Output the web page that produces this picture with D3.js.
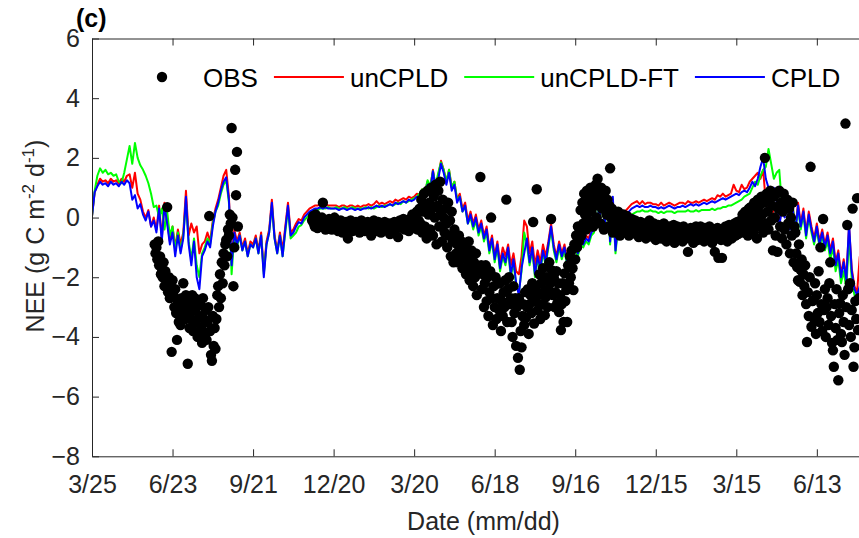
<!DOCTYPE html>
<html>
<head>
<meta charset="utf-8">
<script src="https://cdn.jsdelivr.net/npm/d3@7"></script>
<style>
  body { margin: 0; background: #fff; }
  svg text { font-family: "Liberation Sans", Arial, Helvetica, sans-serif; }
</style>
</head>
<body>
<svg id="chart" width="859" height="538"></svg>
<script>
// ---- data -------------------------------------------------------------
const startDate = "2013-03-25";     // first day of the record
const axisSpanDays = 875;           // length of the x axis in days
const modelStep = 3;                // days between consecutive model values

// Simulated daily NEE (g C m-2 d-1), one value every 3 days from startDate
const unCPLD = [
  0.05, 0.85, 1.1, 1.3, 1.2, 1.25, 1.15, 1.3, 1.2, 1.25,
  1.15, 1.3, 1.2, 1.4, 1.45, 1.0, 1.5, 0.8, 0.6, 0.2,
  0.0, 0.25, -0.3, 0.0, -0.4, 0.4, -0.7, 0.5, -0.1, -0.8,
  -0.3, -1.0, -0.4, -0.9, -0.5, 0.9, -0.6, -0.2, -0.5, -0.3,
  -1.2, -0.9, -0.8, -0.5, -0.8, -0.1, 0.3, 0.6, 1.0, 1.4,
  1.6, 0.7, -1.4, -0.4, -0.8, -0.5, -1.0, -0.7, -1.2, -0.8,
  -0.9, -0.6, -1.1, -0.5, -1.8, -0.8, -0.4, 0.6, -0.6, -1.1,
  -0.5, -1.1, -0.3, 0.5, -0.5, -0.4, -0.2, -0.05, -0.1, 0.1,
  0.2, 0.3, 0.35, 0.4, 0.4, 0.45, 0.4, 0.45, 0.4, 0.4,
  0.4, 0.4, 0.35, 0.4, 0.4, 0.35, 0.4, 0.4, 0.35, 0.4,
  0.35, 0.4, 0.4, 0.45, 0.4, 0.45, 0.55, 0.45, 0.5, 0.45,
  0.5, 0.55, 0.5, 0.6, 0.55, 0.6, 0.65, 0.6, 0.7, 0.65,
  0.7, 0.8, 0.75, 0.95, 0.85, 1.2, 1.0, 1.6, 1.0, 1.4,
  1.9, 1.6, 1.2, 1.6, 1.0, 1.2, 0.6, 0.8, 0.3, 0.5,
  -0.1, 0.2, -0.2, 0.1, -0.4, -0.1, -0.6, -0.3, -1.0, -0.6,
  -1.3, -0.8, -1.5, -1.0, -1.3, -0.9, -1.6, -1.2, -1.8, -1.9,
  -1.3, -0.1, -0.3, -1.2, -0.8, -1.6, -1.1, -1.5, -0.9, -1.3,
  -0.8, -0.2, -0.9, -1.3, -0.8, -1.2, -0.9, -1.4, -1.0, -1.1,
  -0.9, -1.1, -0.7, -0.8, -0.6, -0.7, -0.4, -0.3, 1.1, -0.1,
  0.9, -0.2, 0.8, -0.6, 0.6, -0.9, -0.1, -0.3, 0.1, 0.25,
  0.35, 0.45, 0.5, 0.55, 0.45, 0.55, 0.45, 0.5, 0.5, 0.45,
  0.45, 0.4, 0.5, 0.4, 0.45, 0.5, 0.45, 0.4, 0.45, 0.5,
  0.5, 0.45, 0.55, 0.5, 0.5, 0.55, 0.5, 0.55, 0.6, 0.55,
  0.6, 0.65, 0.6, 0.75, 0.7, 0.8, 0.7, 0.75, 0.8, 1.1,
  0.9, 0.85, 1.1, 0.95, 1.0, 1.2, 1.3, 1.4, 1.5, 1.3,
  1.6, 0.5, 0.2, 0.0, 0.3, 0.4, -0.2, 0.3, 0.1, 0.5,
  -0.3, 0.4, -0.4, 0.5, -0.2, 0.3, -0.5, 0.2, -0.3, -0.7,
  -0.2, -0.8, -0.4, -0.9, -0.5, -1.1, -0.7, -1.5, -1.1, -1.9,
  -1.4, -2.0, -0.3, -1.7, -2.3, -2.5, -1.3
];

const unCPLDFT = [
  0.05, 0.9, 1.4, 1.65, 1.5, 1.6, 1.45, 1.5, 1.4, 1.45,
  1.2, 1.15, 1.5, 1.95, 2.4, 1.8, 2.5, 2.0, 1.75, 1.6,
  1.4, 1.15, 0.8, 0.35, 0.4, 0.0, 0.3, -0.4, 0.2, -0.6,
  -0.3, -1.1, -0.5, -1.1, -0.6, 0.5, -0.8, -1.4, -0.7, -1.6,
  -2.0, -1.2, -1.0, -0.7, -0.9, -0.2, 0.2, 0.4, 0.8, 1.1,
  1.25, 0.5, -1.9, -0.6, -1.0, -0.6, -1.1, -0.8, -1.3, -0.9,
  -1.0, -0.7, -1.2, -0.6, -1.9, -0.9, -0.5, 0.4, -0.7, -1.2,
  -0.6, -1.3, -0.5, 0.3, -0.7, -0.6, -0.5, -0.3, -0.25, -0.1,
  0.0, 0.1, 0.2, 0.25, 0.25, 0.3, 0.3, 0.3, 0.35, 0.3,
  0.3, 0.35, 0.3, 0.3, 0.35, 0.3, 0.3, 0.35, 0.3, 0.3,
  0.3, 0.3, 0.35, 0.3, 0.35, 0.3, 0.35, 0.4, 0.35, 0.4,
  0.4, 0.45, 0.4, 0.45, 0.5, 0.45, 0.55, 0.5, 0.55, 0.6,
  0.65, 0.7, 0.8, 0.95, 0.85, 1.25, 1.05, 1.55, 1.1, 1.5,
  1.85, 1.6, 1.2, 1.6, 1.0, 1.2, 0.6, 0.7, 0.2, 0.35,
  -0.2, 0.0, -0.4, -0.1, -0.6, -0.3, -0.8, -0.5, -1.2, -0.8,
  -1.5, -1.0, -1.8, -1.3, -1.6, -1.1, -2.0, -1.5, -2.3, -2.5,
  -1.8, -0.5, -0.9, -1.6, -1.1, -2.0, -1.4, -1.8, -1.2, -1.6,
  -1.0, -0.4, -1.1, -1.5, -1.0, -1.4, -1.1, -1.6, -1.2, -1.3,
  -1.1, -1.3, -0.9, -1.0, -0.8, -0.9, -0.6, -0.5, 1.0, -0.3,
  0.8, -0.4, 0.7, -0.9, 0.5, -1.2, -0.3, -0.6, -0.2, -0.05,
  0.0, 0.1, 0.15, 0.2, 0.2, 0.25, 0.2, 0.2, 0.25, 0.2,
  0.2, 0.15, 0.2, 0.15, 0.2, 0.2, 0.2, 0.15, 0.2, 0.2,
  0.2, 0.2, 0.25, 0.2, 0.2, 0.25, 0.2, 0.25, 0.25, 0.25,
  0.25, 0.3, 0.25, 0.3, 0.3, 0.35, 0.35, 0.4, 0.4, 0.45,
  0.5, 0.55, 0.6, 0.7, 0.75, 0.8, 1.0, 1.2, 1.1, 1.4,
  1.6, 1.7, 2.3, 1.8, 1.3, 1.5, 1.6, 0.4, 0.3, 0.7,
  -0.3, 0.4, -0.4, 0.3, -0.4, 0.1, -0.7, 0.0, -0.5, -0.9,
  -0.4, -1.0, -0.6, -1.1, -0.8, -1.4, -1.0, -1.8, -1.4, -2.2,
  -1.8, -2.4, -0.6, -2.1, -2.6, -2.7, -2.4
];

const CPLD = [
  0.05, 0.85, 1.05, 1.2, 1.1, 1.15, 1.05, 1.2, 1.1, 1.15,
  1.05, 1.2, 1.1, 1.25, 1.15, 0.6, 0.75, 0.3, 0.45, 0.1,
  -0.1, 0.2, -0.3, -0.1, -0.5, 0.3, -0.8, 0.4, -0.2, -0.9,
  -0.5, -1.3, -0.6, -1.2, -0.7, 0.7, -0.9, -1.6, -0.8, -2.0,
  -2.4, -1.3, -1.1, -0.8, -1.0, -0.3, 0.2, 0.5, 0.9, 1.2,
  1.35, 0.6, -1.6, -0.5, -0.9, -0.6, -1.1, -0.8, -1.3, -0.9,
  -1.0, -0.7, -1.2, -0.6, -2.0, -0.9, -0.5, 0.5, -0.7, -1.2,
  -0.6, -1.3, -0.4, 0.4, -0.6, -0.5, -0.3, -0.15, -0.2, 0.0,
  0.1, 0.2, 0.25, 0.3, 0.3, 0.35, 0.3, 0.35, 0.3, 0.3,
  0.3, 0.3, 0.25, 0.3, 0.3, 0.25, 0.3, 0.3, 0.25, 0.3,
  0.25, 0.3, 0.3, 0.35, 0.3, 0.35, 0.4, 0.35, 0.4, 0.35,
  0.4, 0.45, 0.4, 0.5, 0.45, 0.5, 0.55, 0.5, 0.6, 0.55,
  0.6, 0.7, 0.65, 0.85, 0.75, 1.1, 0.9, 1.55, 0.95, 1.3,
  1.8, 1.5, 1.1, 1.5, 0.9, 1.1, 0.5, 0.7, 0.2, 0.4,
  -0.2, 0.1, -0.3, 0.0, -0.5, -0.2, -0.7, -0.4, -1.1, -0.7,
  -1.4, -0.9, -1.7, -1.2, -1.5, -1.0, -1.9, -1.4, -2.2, -2.6,
  -1.7, -1.2, -0.7, -1.5, -1.0, -1.9, -1.3, -1.7, -1.1, -1.5,
  -0.9, -0.3, -1.0, -1.4, -0.9, -1.3, -1.0, -1.5, -1.1, -1.2,
  -1.0, -1.2, -0.8, -0.9, -0.7, -0.8, -0.5, -0.4, 1.2, -0.2,
  1.0, -0.3, 0.9, -0.8, 0.7, -1.1, -0.2, -0.5, -0.1, 0.1,
  0.2, 0.3, 0.35, 0.4, 0.35, 0.4, 0.35, 0.35, 0.4, 0.35,
  0.35, 0.3, 0.35, 0.3, 0.35, 0.4, 0.35, 0.3, 0.35, 0.35,
  0.4, 0.35, 0.4, 0.45, 0.4, 0.45, 0.4, 0.45, 0.5, 0.45,
  0.5, 0.55, 0.5, 0.55, 0.6, 0.65, 0.6, 0.65, 0.7, 0.75,
  0.8, 0.75, 0.85, 0.9, 0.85, 1.0, 1.2, 1.05, 1.3, 1.7,
  2.0, 1.3, 1.0, 0.95, 1.0, 0.6, -0.3, 0.3, 0.0, 0.6,
  -0.4, 0.3, -0.5, 0.4, -0.3, 0.2, -0.6, 0.1, -0.4, -0.8,
  -0.3, -0.9, -0.5, -1.0, -0.6, -1.2, -0.8, -1.6, -1.2, -2.0,
  -1.5, -2.1, -0.2, -1.8, -2.4, -2.6, -2.3
];

// Observed daily NEE, first growing season (starts at day 70 of the record)
const obsSeasonOneStartDay = 70;
const obsSeasonOne = [
  -0.9, -1.2, -1.0, -1.4, -0.8, -1.6, -1.3, -1.9, -1.7, -2.0,
  -1.5, -2.3, -1.8, -2.1, 0.35, -2.5, -2.0, -2.7, -2.3, -4.5,
  -2.1, -2.6, -3.0, -2.4, -3.2, -4.1, -2.8, -3.5, -3.0, -3.6,
  -2.7, -3.3, -2.2, -2.9, -3.4, -2.6, -3.2, -4.9, -3.0, -3.7,
  -2.8, -3.4, -2.6, -3.8, -3.1, -2.7, -3.5, -3.0, -4.0, -2.9,
  -3.3, -2.9, -3.7, -4.2, -2.7, -3.4, -3.9, -3.1, -4.1, -3.5,
  -3.0, 0.05, -3.8, -4.6, -4.8, -3.3, -4.3, -3.7, -4.4, -3.4,
  -2.6, -2.3, -3.0, -1.9, -2.7, -1.5, -2.2, -1.2, -1.6, -0.9,
  -0.75, -1.3, -0.4, -0.6, 0.1, -0.2, 3.0, 0.0, -2.3, -1.0,
  1.6, 0.75, 2.2, -0.3
];

// Observed daily NEE from the first winter to the end of the record (starts at day 246)
const obsMainStartDay = 246;
const obsMain = [
  -0.1, 0.05, -0.2, -0.3, 0.1, -0.15, -0.35, -0.1, -0.25, -0.05,
  -0.2, 0.0, 0.5, -0.3, -0.1, -0.4, -0.2, -0.15, -0.3, -0.05,
  -0.25, -0.1, -0.4, -0.2, -0.3, 0.0, -0.35, -0.15, -0.25, -0.45,
  -0.2, -0.3, -0.1, -0.35, -0.5, -0.2, -0.25, -0.4, -0.15, -0.3,
  -0.7, -0.2, -0.35, -0.1, -0.3, -0.45, -0.2, -0.25, -0.35, -0.15,
  -0.3, -0.4, -0.2, -0.5, -0.25, -0.1, -0.35, -0.3, -0.2, -0.45,
  -0.25, -0.3, -0.15, -0.4, -0.2, -0.35, -0.6, -0.25, -0.3, -0.1,
  -0.35, -0.2, -0.3, -0.45, -0.15, -0.3, -0.25, -0.5, -0.2, -0.35,
  -0.3, -0.15, -0.4, -0.25, -0.35, -0.2, -0.3, -0.55, -0.2, -0.3,
  -0.25, -0.4, -0.15, -0.3, -0.2, -0.35, -0.65, -0.25, -0.1, -0.3,
  -0.2, -0.35, -0.05, -0.25, -0.4, -0.15, -0.3, -0.1, -0.45, -0.2,
  -0.05, -0.3, 0.1, -0.2, -0.35, 0.0, -0.15, 0.2, -0.4, -0.1,
  0.3, -0.2, 0.6, -0.5, 0.2, 0.8, -0.3, 0.4, -0.7, 0.9,
  0.1, 0.5, -0.4, 1.0, 0.3, -0.6, 0.7, 0.0, 1.1, -0.9,
  0.4, 0.9, -0.3, 1.2, 0.2, -0.8, 0.6, 0.0, -0.5, 0.3,
  -0.2, -1.0, 0.5, -0.6, -0.1, -1.3, 0.2, -0.8, -1.5, -0.4,
  -0.7, -1.2, -0.9, -1.5, -0.6, -1.1, -1.4, -0.8, -1.7, -1.0,
  -1.3, -0.9, -1.9, -1.2, -1.6, -0.8, -2.1, -1.4, -1.1, -1.8,
  -2.3, -1.5, -2.0, -1.2, -2.6, -1.7, -1.85, -1.7, 1.36, -1.6,
  -2.4, -1.9, -3.0, -2.2, -1.6, -2.8, -2.0, -3.3, -2.5, -1.8,
  0.0, -2.7, -3.6, -2.3, -3.0, -2.0, -3.4, -2.7, -2.2, -3.1,
  -2.2, -3.8, -2.8, -3.3, -2.5, -3.0, -2.1, 0.6, -3.5, -2.4,
  -2.0, -2.9, -2.7, -3.5, -4.0, -2.3, -3.2, -2.7, -4.3, -3.0,
  -4.7, -2.7, -5.1, -3.8, -4.35, -3.3, -2.9, -3.6, -2.5, -3.35,
  -3.0, -2.4, -3.9, -2.9, -2.6, -3.2, -2.2, -0.15, -3.55, -2.8,
  -2.4, 0.95, -3.1, -2.6, -1.9, -3.4, -2.2, -2.9, -1.7, -2.5,
  -3.27, -2.67, -2.0, -3.0, -2.4, -1.5, -2.2, -0.05, -1.77, -2.6,
  -2.0, -3.0, -2.5, -1.8, -2.87, -2.2, -3.17, -2.6, -3.77, -2.9,
  -2.2, -3.5, -1.87, -2.8, -2.43, -3.5, -1.6, -2.2, -1.3, -2.0,
  -1.1, -1.7, -2.43, -0.9, -1.4, -0.6, -1.0, -0.3, -0.8, -0.5,
  0.25, -0.6, 0.5, -0.2, 0.8, 0.1, -0.4, 0.9, 0.3, -0.1,
  0.6, 1.0, 0.2, 0.7, -0.3, 0.9, 0.4, 1.1, 0.0, 1.3,
  0.5, 0.8, -0.2, 1.0, 0.3, 0.7, -0.4, 0.5, 0.9, 0.1,
  0.6, -0.3, 0.4, 1.65, 0.0, 0.3, -0.5, 0.2, -0.2, 0.1,
  -0.1, -0.4, 0.2, -0.3, -0.6, 0.0, -0.2, -0.5, 0.1, -0.35,
  -0.2, -0.45, 0.05, -0.3, -0.6, -0.15, -0.35, -0.05, -0.5, -0.25,
  -0.4, -0.1, -0.55, -0.3, -0.2, -0.65, -0.35, -0.15, -0.45, -0.3,
  -0.6, -0.2, -0.4, -0.7, -0.25, -0.5, -0.35, -0.1, -0.55, -0.4,
  -0.3, -0.65, -0.2, -0.45, -0.75, -0.35, -0.5, -0.25, -0.6, -0.4,
  -0.7, -0.3, -0.5, -0.2, -0.6, -0.45, -0.8, -0.35, -0.55, -0.3,
  -0.5, -0.75, -0.4, -0.6, -0.25, -0.85, -0.45, -0.55, -0.3, -0.75,
  -0.5, -0.35, -0.65, -0.45, -0.8, -0.3, -0.55, -0.7, -0.4, -0.6,
  -1.15, -0.45, -0.7, -0.35, -0.6, -0.5, -0.85, -0.4, -0.65, -0.3,
  -0.55, -0.75, -0.4, -0.6, -0.3, -0.7, -0.5, -0.45, -0.8, -0.35,
  -0.6, -0.4, -0.75, -0.5, -0.3, -0.65, -0.45, -0.85, -0.55, -0.4,
  -1.15, -0.5, -0.7, -0.35, -1.35, -0.6, -0.45, -0.75, -1.35, -0.5,
  -0.4, -0.65, -0.3, -0.55, -0.8, -0.45, -0.25, -0.6, -0.4, -0.7,
  -0.35, -0.5, -0.2, -0.6, -0.4, -0.15, -0.55, -0.3, -0.45, -0.1,
  -0.3, 0.1, -0.5, -0.2, 0.2, -0.4, 0.0, -0.6, 0.3, -0.15,
  0.35, -0.3, 0.1, -0.5, 0.5, -0.1, 0.3, -0.7, 0.6, 0.0,
  0.4, -0.3, 0.7, 0.1, -0.5, 0.5, 2.0, -0.2, 0.8, 0.2,
  -0.4, 0.6, 0.9, -0.1, 0.4, -1.1, 0.7, 0.0, -0.6, 0.8,
  -1.15, 0.3, 0.9, -0.3, 0.5, -0.7, 0.2, 0.8, -0.4, 0.4,
  -0.9, 0.6, -0.2, 0.3, -1.2, 0.0, -0.6, 0.5, -1.5, -0.3,
  -0.5, -1.2, -1.66, -2.1, -0.9, -2.15, -1.76, -1.4, -2.6, -1.9,
  -2.3, -1.6, -2.9, -4.17, -2.5, -3.3, -2.0, 1.7, -3.66, -2.8,
  -2.77, -3.4, -2.2, -3.9, -2.6, -3.2, -1.8, -3.5, -1.0, -2.9,
  -3.8, -0.05, -3.1, -2.4, -4.0, -3.0, -2.7, -3.6, -2.2, -1.5,
  -3.3, -4.2, -4.45, -5.0, -2.9, -3.7, -2.4, -4.1, -5.45, -3.2,
  -2.87, -3.9, -4.17, -2.6, -3.5, -4.6, 3.15, -3.0, -0.25, -2.4,
  -3.6, -2.2, -4.0, -3.1, 0.3, -5.0, -4.35, -2.8, -3.4, 0.65,
  -3.77, -2.7
];

const yTicks = [-8, -6, -4, -2, 0, 2, 4, 6];
const xTickDates = ["2013-03-25", "2013-06-23", "2013-09-21", "2013-12-20", "2014-03-20",
                    "2014-06-18", "2014-09-16", "2014-12-15", "2015-03-15", "2015-06-13"];
const seriesNames = ["OBS", "unCPLD", "unCPLD-FT", "CPLD"];
const seriesColors = ["#000000", "#ff0000", "#00ff00", "#0000ff"];

// ---- layout -----------------------------------------------------------
const svg = d3.select("#chart");
const plot = { left: 92, right: 875, top: 38.5, bottom: 456.3 };
const axisColor = "#262626";
const fontSize = 25;
const legendFontSize = 26;

const parseDay = d3.utcParse("%Y-%m-%d");
const t0 = parseDay(startDate);
const dayToDate = d => d3.utcDay.offset(t0, d);

const x = d3.scaleUtc().domain([t0, dayToDate(axisSpanDays)]).range([plot.left, plot.right]);
const y = d3.scaleLinear().domain([-8, 6]).range([plot.bottom, plot.top]);

svg.append("rect").attr("width", 859).attr("height", 538).attr("fill", "#fff");

svg.append("defs").append("clipPath").attr("id", "plotClip")
  .append("rect")
  .attr("x", plot.left).attr("y", plot.top)
  .attr("width", plot.right - plot.left).attr("height", plot.bottom - plot.top);

// ---- data layers ------------------------------------------------------
const layer = svg.append("g").attr("clip-path", "url(#plotClip)");

const modelLine = d3.line()
  .x((v, i) => x(dayToDate(i * modelStep)))
  .y(v => y(v));

[[unCPLD, seriesColors[1]], [unCPLDFT, seriesColors[2]], [CPLD, seriesColors[3]]].forEach(([vals, col]) => {
  layer.append("path")
    .datum(vals)
    .attr("d", modelLine)
    .attr("fill", "none")
    .attr("stroke", col)
    .attr("stroke-width", 2)
    .attr("stroke-linejoin", "round");
});

const obsPoints = [];
obsSeasonOne.forEach((v, i) => { if (v !== null) obsPoints.push({ day: obsSeasonOneStartDay + i, v }); });
obsMain.forEach((v, i) => { if (v !== null) obsPoints.push({ day: obsMainStartDay + i, v }); });

layer.append("g").selectAll("circle")
  .data(obsPoints)
  .join("circle")
  .attr("cx", d => x(dayToDate(d.day)))
  .attr("cy", d => y(d.v))
  .attr("r", 5.2)
  .attr("fill", seriesColors[0]);

// ---- axes -------------------------------------------------------------
function styleAxis(g) {
  g.attr("font-family", null).attr("font-size", null);
  g.select(".domain").attr("stroke", axisColor).attr("stroke-width", 1);
  g.selectAll(".tick line").attr("stroke", axisColor).attr("stroke-width", 1);
  g.selectAll(".tick text").attr("fill", axisColor).style("font-size", fontSize + "px");
}

const tickDates = xTickDates.map(parseDay);
const fmt = d3.utcFormat("%-m/%-d");

svg.append("g")
  .attr("transform", `translate(0,${plot.bottom})`)
  .call(d3.axisBottom(x).tickValues(tickDates).tickFormat(fmt).tickSize(-7).tickSizeOuter(0).tickPadding(19))
  .call(styleAxis);

svg.append("g")
  .attr("transform", `translate(0,${plot.top})`)
  .call(d3.axisTop(x).tickValues(tickDates).tickFormat(() => "").tickSize(-7).tickSizeOuter(0))
  .call(styleAxis);

svg.append("g")
  .attr("transform", `translate(${plot.left},0)`)
  .call(d3.axisLeft(y).tickValues(yTicks).tickFormat(d3.format("d")).tickSize(-7).tickSizeOuter(0).tickPadding(12))
  .call(styleAxis);

svg.append("g")
  .attr("transform", `translate(${plot.right},0)`)
  .call(d3.axisRight(y).tickValues(yTicks).tickFormat(() => "").tickSize(-7).tickSizeOuter(0))
  .call(styleAxis);

// ---- labels -----------------------------------------------------------
svg.append("text")
  .attr("x", (plot.left + plot.right) / 2).attr("y", 530)
  .attr("text-anchor", "middle")
  .attr("fill", axisColor)
  .style("font-size", fontSize + "px")
  .text("Date (mm/dd)");

const yLabel = svg.append("text")
  .attr("transform", "translate(44,236) rotate(-90)")
  .attr("text-anchor", "middle")
  .attr("fill", axisColor)
  .style("font-size", fontSize + "px");
yLabel.append("tspan").text("NEE (g C m");
yLabel.append("tspan").attr("dy", -10).style("font-size", "17px").text("-2");
yLabel.append("tspan").attr("dy", 10).text(" d");
yLabel.append("tspan").attr("dy", -10).style("font-size", "17px").text("-1");
yLabel.append("tspan").attr("dy", 10).text(")");

svg.append("text")
  .attr("x", 76).attr("y", 27)
  .attr("fill", "#000")
  .style("font-size", fontSize + "px")
  .style("font-weight", "bold")
  .text("(c)");

// ---- legend -----------------------------------------------------------
const legend = svg.append("g").attr("transform", "translate(127,77)");
const iconLen = 70, textGap = 6, itemGap = 16;
let cursor = 0;
seriesNames.forEach((name, i) => {
  if (i === 0) {
    legend.append("circle").attr("cx", cursor + iconLen / 2).attr("cy", 0).attr("r", 5.2).attr("fill", seriesColors[0]);
  } else {
    legend.append("line")
      .attr("x1", cursor).attr("x2", cursor + iconLen)
      .attr("y1", 0).attr("y2", 0)
      .attr("stroke", seriesColors[i]).attr("stroke-width", 2);
  }
  cursor += iconLen + textGap;
  const t = legend.append("text")
    .attr("x", cursor).attr("y", 9.5)
    .attr("fill", "#000")
    .style("font-size", legendFontSize + "px")
    .text(name);
  cursor += t.node().getComputedTextLength() + itemGap;
});
</script>
</body>
</html>
